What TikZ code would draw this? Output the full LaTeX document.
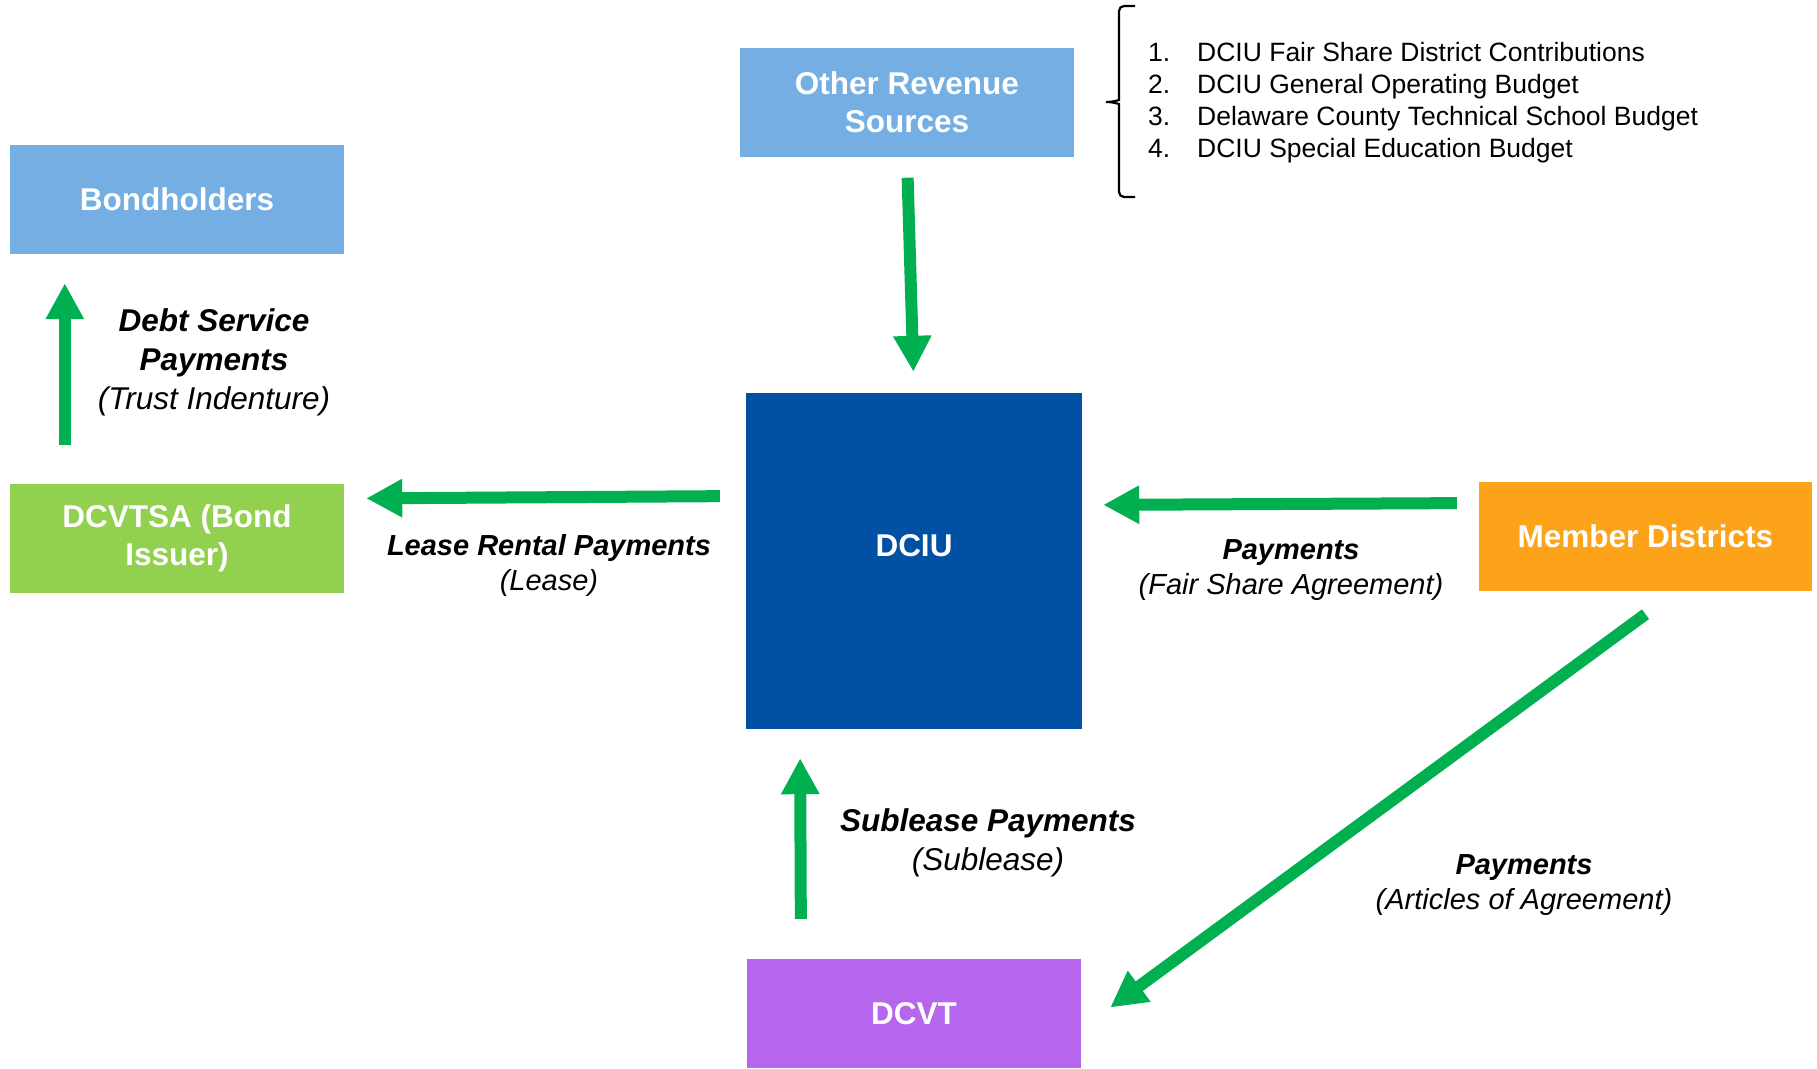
\documentclass[tikz,border=0pt]{standalone}
\usepackage{fontspec}
\setmainfont{Liberation Sans}
\usepackage{tikz}
\usetikzlibrary{arrows.meta}
\definecolor{boxblue}{HTML}{74AEE2}
\definecolor{darkblue}{HTML}{0050A4}
\definecolor{issuergreen}{HTML}{92D050}
\definecolor{memberorange}{HTML}{FCA31A}
\definecolor{dcvtpurple}{HTML}{B566EC}
\definecolor{flowgreen}{HTML}{00B050}

\begin{document}
\begin{tikzpicture}[x=1pt,y=-1pt]
  \tikzstyle{flow}=[line width=12pt,draw=flowgreen,-{Triangle[length=36pt,width=36pt]}]
  \tikzstyle{block_txt}=[text=white,align=center,font=\fontsize{31.5}{38.5}\selectfont\bfseries]
  \tikzstyle{block}=[rectangle,inner sep=0pt,minimum width=334pt,minimum height=109pt,block_txt]
  \tikzstyle{big_txt}=[align=center,font=\fontsize{31.5}{39}\selectfont\itshape]
  \tikzstyle{txt}=[align=center,font=\fontsize{29}{35}\selectfont\itshape]
  \tikzstyle{list_txt}=[anchor=base west,inner sep=0pt,font=\fontsize{26.5}{32}\selectfont]

  \useasboundingbox (0,0) rectangle (1817,1068);

  % blocks on left
  \node [block,fill=boxblue] (bond) at (177,199.5) {Bondholders};
  \node [block,fill=issuergreen] (issuer) at (177,538.5) {DCVTSA (Bond\\Issuer)};

  % blocks in the middle column
  \node [block,fill=boxblue] (other) at (907,102) {Other Revenue\\Sources};
  \node [block,fill=darkblue,minimum width=336pt,minimum height=336pt,
         label={[block_txt,yshift=15pt]center:DCIU}] (dciu) at (914,561) {};
  \node [block,fill=dcvtpurple] (dcvt) at (914,1013.5) {DCVT};

  % block on right
  \node [block,fill=memberorange,minimum width=333pt] (member) at (1645.5,536.5) {Member Districts};

  % the brace and the list of sources
  \coordinate (brace_top) at (1135,6);
  \coordinate (brace_bot) at (1135,197);
  \draw [line width=2.2pt,rounded corners=5pt] (brace_top) -- (1119,6) -- (1119,95)
        .. controls (1119,100) and (1112,102) .. (1103,102)
        .. controls (1112,102) and (1119,104) .. (1119,109) -- (1119,197) -- (brace_bot);
  \node [list_txt] (src1) at (1148,61) {\makebox[49pt][l]{1.}DCIU Fair Share District Contributions};
  \node [list_txt] (src2) at (1148,93) {\makebox[49pt][l]{2.}DCIU General Operating Budget};
  \node [list_txt] (src3) at (1148,125) {\makebox[49pt][l]{3.}Delaware County Technical School Budget};
  \node [list_txt] (src4) at (1148,157) {\makebox[49pt][l]{4.}DCIU Special Education Budget};

  % arrows between blocks
  \draw [flow,shorten <=21pt,shorten >=21pt] (other.south) -- (dciu.north);
  \draw [flow,shorten <=39pt,shorten >=29pt] ([xshift=55pt]issuer.north west) -- ([xshift=55pt]bond.south west);
  \draw [flow,shorten <=26pt,shorten >=22pt] ([yshift=65pt]dciu.west) -- ([yshift=40pt]issuer.east);
  \draw [flow,shorten <=22pt,shorten >=21pt] ([yshift=33.5pt]member.west) -- ([yshift=56pt]dciu.east);
  \draw [flow,shorten <=40pt,shorten >=29pt] ([xshift=-113pt]dcvt.north) -- ([xshift=-114pt]dciu.south);
  \draw [flow] ([yshift=-23pt]member.south) -- ([xshift=29pt,yshift=6pt]dcvt.east);

  % the arrow labels
  \node [big_txt] (debt_lbl) at (214,362) {\textbf{Debt Service}\\\textbf{Payments}\\(Trust Indenture)};
  \node [txt] (lease_lbl) at (549,565) {\textbf{Lease Rental Payments}\\(Lease)};
  \node [txt] (fair_lbl) at (1291,570) {\textbf{Payments}\\(Fair Share Agreement)};
  \node [big_txt] (sublease_lbl) at (988,843) {\textbf{Sublease Payments}\\(Sublease)};
  \node [txt] (articles_lbl) at (1524,885) {\textbf{Payments}\\(Articles of Agreement)};

\end{tikzpicture}
\end{document}
